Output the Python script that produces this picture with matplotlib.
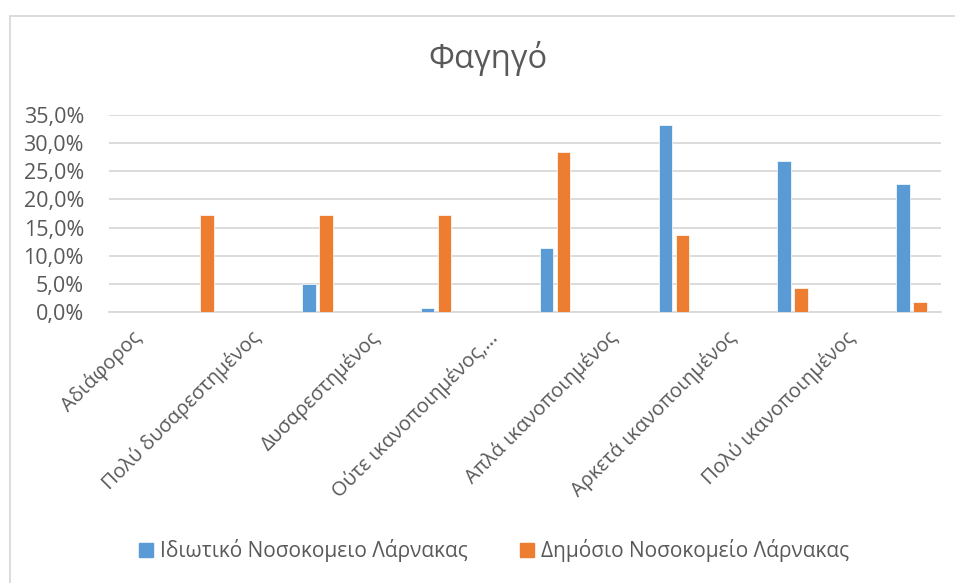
import matplotlib
matplotlib.use("Agg")
import matplotlib.pyplot as plt
import matplotlib.patches as mpatches
import matplotlib.transforms as mtransforms
import numpy as np

plt.rcParams['font.family'] = ['Open Sans', 'DejaVu Sans']

title = "Φαγηγό"
categories = [
    "Αδιάφορος",
    "Πολύ δυσαρεστημένος",
    "Δυσαρεστημένος",
    "Ούτε ικανοποιημένος,…",
    "Απλά ικανοποιημένος",
    "Αρκετά ικανοποιημένος",
    "Πολύ ικανοποιημένος",
]
series_names = ["Ιδιωτικό Νοσοκομειο Λάρνακας", "Δημόσιο Νοσοκομείο Λάρνακας"]
private_vals = [0.0, 4.9, 0.7, 11.4, 33.3, 26.8, 22.8]
public_vals = [17.2, 17.2, 17.2, 28.4, 13.6, 4.2, 1.8]
y_ticks = [0, 5, 10, 15, 20, 25, 30, 35]
y_tick_labels = ["0,0%", "5,0%", "10,0%", "15,0%", "20,0%", "25,0%", "30,0%", "35,0%"]

blue = "#5B9BD5"
orange = "#ED7D31"
grid_c = "#D9D9D9"
text_c = "#595959"

W, H = 955, 583
fig = plt.figure(figsize=(W / 100, H / 100), dpi=100)
fig.patch.set_facecolor("white")

# chart frame
frame = mpatches.Rectangle((9.5 / W, -0.05), 1.2, 1.05 - 16 / H,
                           transform=fig.transFigure, fill=False,
                           edgecolor=grid_c, linewidth=1.3)
fig.add_artist(frame)

left, right = 109 / W, 941 / W
top, bottom = 1 - 115 / H, 1 - 312 / H
ax = fig.add_axes([left, bottom, right - left, top - bottom])

x = np.arange(len(categories))
bw = 0.114
ax.bar(x + 0.181, private_vals, width=bw, color=blue, edgecolor="white",
       linewidth=0.5, zorder=3, label=series_names[0])
ax.bar(x + 0.324, public_vals, width=bw, color=orange, edgecolor="white",
       linewidth=0.5, zorder=3, label=series_names[1])

ax.set_xlim(-0.5, len(categories) - 0.5)
ax.set_ylim(0, 35)
ax.set_yticks(y_ticks)
ax.set_yticklabels(y_tick_labels, color=text_c, fontsize=15.5)
ax.yaxis.grid(True, color=grid_c, linewidth=1.3, zorder=0)
ax.set_axisbelow(True)
for s in ["left", "right", "top"]:
    ax.spines[s].set_visible(False)
ax.spines["bottom"].set_color(grid_c)
ax.spines["bottom"].set_linewidth(1.3)
ax.tick_params(axis="y", length=0, pad=18)
ax.tick_params(axis="x", length=0, pad=4)

ax.set_xticks(x)
ax.set_xticklabels(categories, rotation=45, ha="right", va="top",
                   rotation_mode="anchor", color=text_c, fontsize=14.5)
shift = mtransforms.ScaledTranslation(-37 / 100, -10 / 100, fig.dpi_scale_trans)
for lbl in ax.get_xticklabels():
    lbl.set_transform(lbl.get_transform() + shift)

fig.text(488 / W, 1 - 58 / H, title, ha="center", va="center",
         fontsize=23.5, color=text_c)

handles = [mpatches.Patch(color=blue), mpatches.Patch(color=orange)]
fig.legend(handles, series_names, loc="center", bbox_to_anchor=(494 / W, 1 - 551 / H),
           ncol=2, frameon=False, fontsize=15, labelcolor=text_c,
           handlelength=0.67, handleheight=0.67, handletextpad=0.35,
           columnspacing=2.5)

fig.savefig("out.png", dpi=100, facecolor="white")
